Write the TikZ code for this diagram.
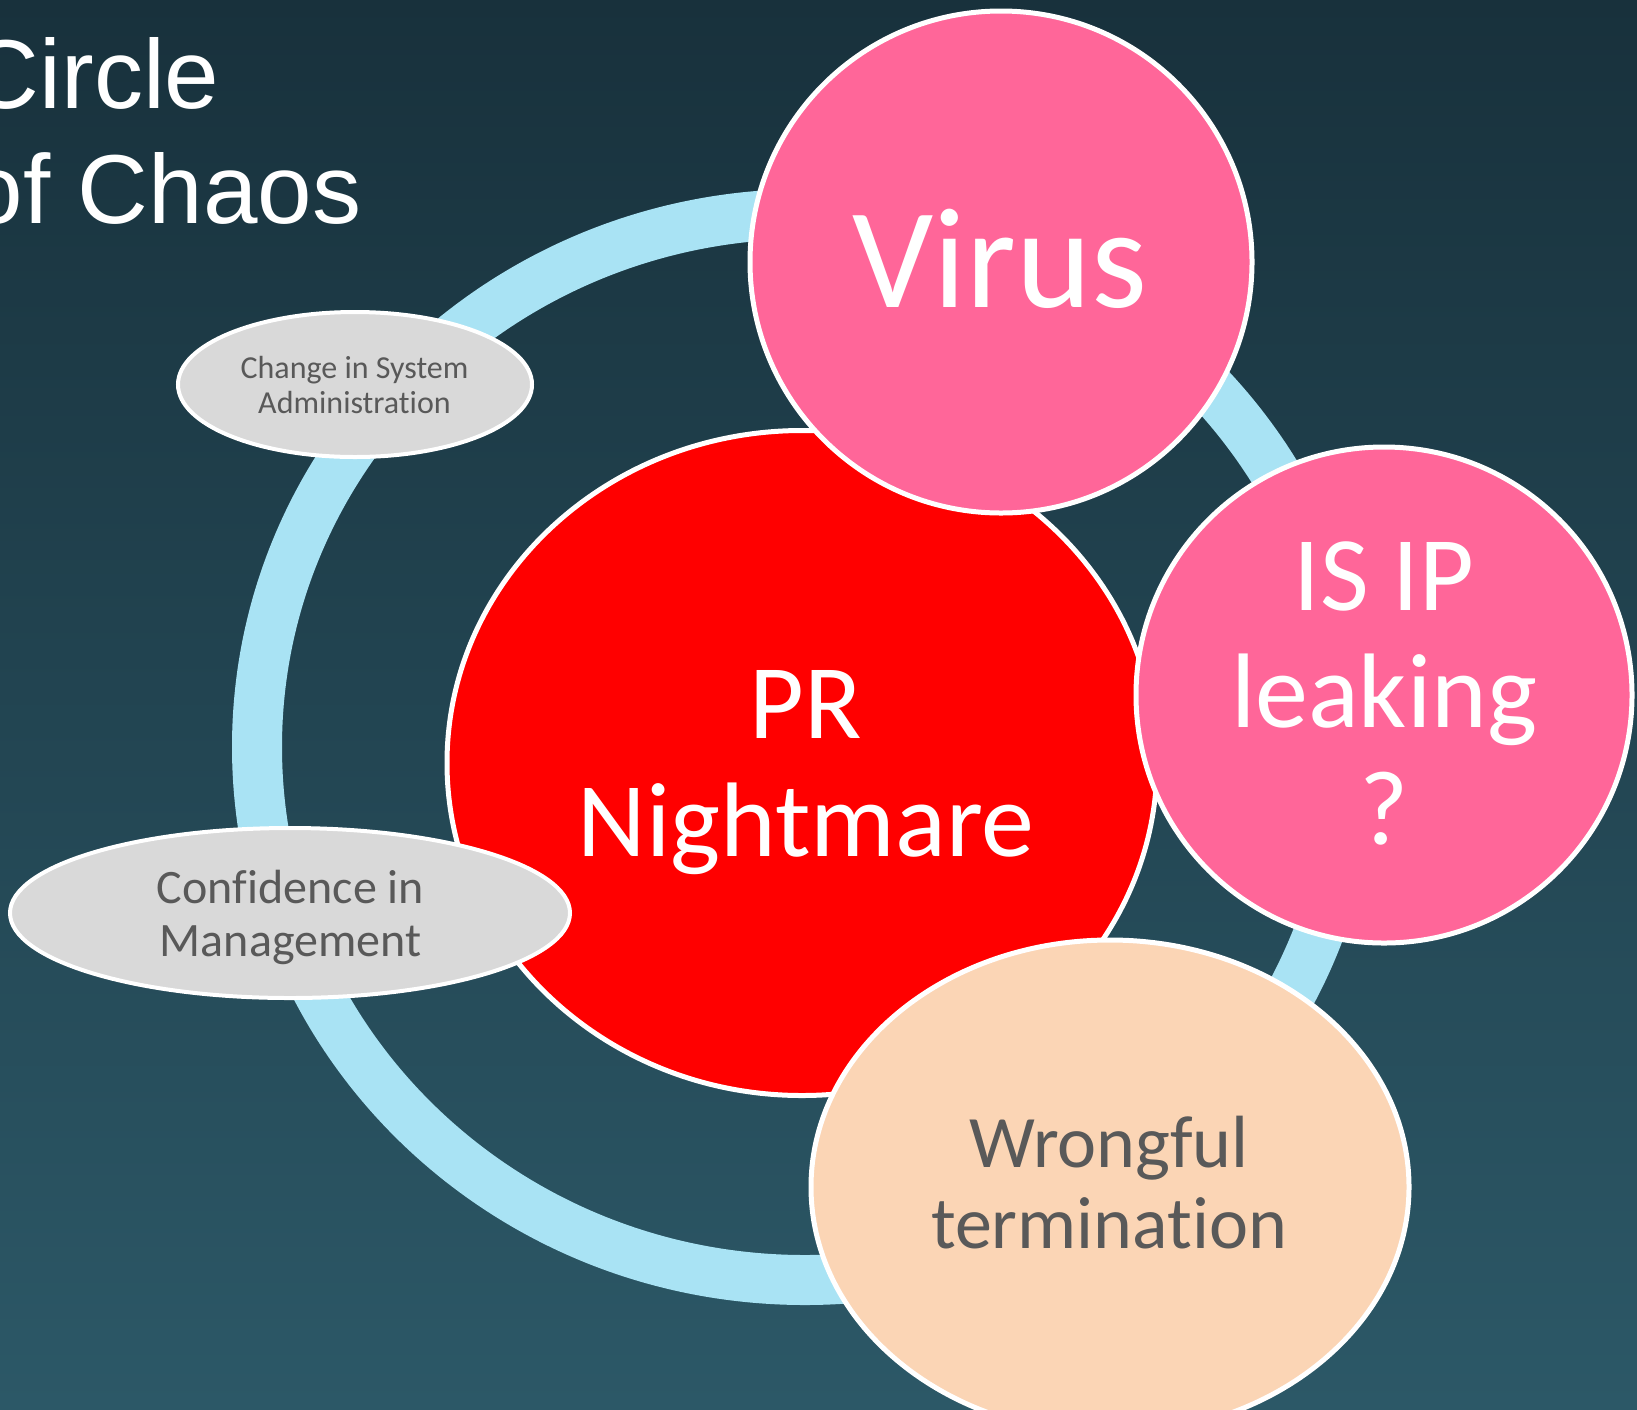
\documentclass[tikz,border=0pt]{standalone}
\usepackage{fontspec}
\setmainfont{Carlito}[Ligatures={NoCommon,NoRare,NoContextual}]
\newfontfamily\titlefont{Liberation Sans}
\usetikzlibrary{shapes.geometric}
\definecolor{bgtop}{HTML}{18313C}
\definecolor{bgbot}{HTML}{2C5867}
\definecolor{ringblue}{HTML}{A9E3F4}
\definecolor{pinkc}{HTML}{FF6699}
\definecolor{redc}{HTML}{FF0000}
\definecolor{peach}{HTML}{FBD5B5}
\definecolor{greyc}{HTML}{D9D9D9}
\definecolor{txtgrey}{HTML}{595959}
\begin{document}
\begin{tikzpicture}[x=1pt,y=-1pt,
  blob/.style={ellipse, draw=white, line width=5pt, inner sep=0pt, outer sep=0pt},
  lbl/.style={align=center, inner sep=0pt, outer sep=0pt},
]
\useasboundingbox (0,0) rectangle (1637,1409);
\clip (0,0) rectangle (1637,1409);
\shade[top color=bgtop, bottom color=bgbot] (0,0) rectangle (1637,1409);
% ring
\node[ellipse, draw=ringblue, line width=50pt, minimum width=1096pt, minimum height=1066pt, inner sep=0pt] (ring) at (805,747) {};
% shapes
\node[blob, fill=redc, minimum width=710pt, minimum height=665pt] (pr) at (802,763) {};
\node[blob, fill=pinkc, minimum width=502pt, minimum height=502pt] (virus) at (1001,262) {};
\node[blob, fill=pinkc, minimum width=496pt, minimum height=496pt] (ip) at (1384,695) {};
\node[blob, fill=peach, minimum width=598pt, minimum height=494pt] (wrong) at (1110,1187) {};
\node[blob, fill=greyc, line width=4pt, minimum width=354pt, minimum height=145pt] (change) at (355,384.5) {};
\node[blob, fill=greyc, line width=4pt, minimum width=560pt, minimum height=170pt] (conf) at (290,913) {};
% texts
\node[lbl, font=\fontsize{143}{157}\selectfont, text=white] (virusT) at (1000,258.5) {Virus};
\node[lbl, font=\fontsize{106}{117}\selectfont, text=white] (ipT) at (1384,693) {IS IP\\leaking\\?};
\node[lbl, font=\fontsize{106}{118}\selectfont, text=white] (prT) at (806,772.5) {PR\\Nightmare};
\node[lbl, font=\fontsize{74}{81}\selectfont, text=txtgrey] (wrongT) at (1109,1183) {Wrongful\\termination};
\node[lbl, font=\fontsize{32}{35}\selectfont, text=txtgrey] (chgT) at (354.5,384.5) {Change in System\\Administration};
\node[lbl, font=\fontsize{48}{53}\selectfont, text=txtgrey] (confT) at (290.5,917) {Confidence in\\Management};
% title
\node[lbl, align=left, anchor=west, font=\titlefont\fontsize{98}{115}\selectfont, text=white] (title) at (-31,130.5) {Circle\\of Chaos};
\end{tikzpicture}
\end{document}
